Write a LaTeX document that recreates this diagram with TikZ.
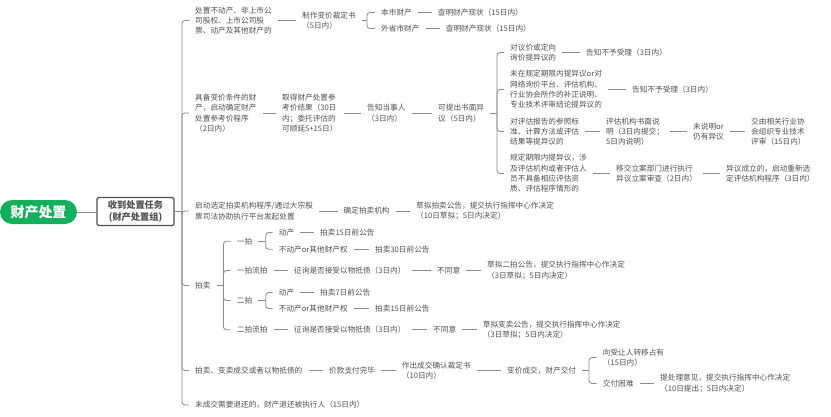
\documentclass[tikz,border=0pt]{standalone}
\usepackage{fontspec}
\setmainfont{Noto Sans CJK SC}
\definecolor{txt}{HTML}{505050}
\definecolor{lin}{HTML}{8C8C8C}
\definecolor{grn}{HTML}{12B05C}
\newcommand{\lk}[2]{\draw[conn] (#1.east) -- (#1.east -| #2.west);}
\newcommand{\fk}[3]{\draw[conn] (#2.east) -- (#2.east -| #1); \draw[conn,rounded corners=3pt] (#2.east -| #1) |- (#3.west);}
\tikzset{
  n/.style={anchor=west,xshift=-6pt,yshift=-0.5pt,inner xsep=6pt,inner ysep=1pt,align=left,text=txt,font=\fontsize{7.65}{10.35}\selectfont},
  conn/.style={draw=lin,line width=0.85pt},
  rootbox/.style={fill=grn,rounded corners=12pt,text=white,font=\fontsize{14}{16}\selectfont\bfseries,minimum width=77pt,minimum height=24pt,inner sep=0pt},
  taskbox/.style={draw=txt,line width=1.1pt,rounded corners=1.5pt,fill=white,align=center,text=txt,font=\fontsize{9.2}{11.5}\selectfont\bfseries,minimum width=77pt,minimum height=28pt,inner sep=0pt}
}
\begin{document}
\begin{tikzpicture}[x=1pt,y=-1pt]
\useasboundingbox (0,0) rectangle (831,416);
\coordinate (f0) at (182,0); \coordinate (fa) at (367,0); \coordinate (fb) at (497,0);
\coordinate (fd) at (223.5,0); \coordinate (fd1) at (265.7,0); \coordinate (fe) at (589,0);
\node[rootbox] (root) at (38.5,212) {财产处置};
\node[taskbox] (task) at (135.5,211.5) {收到处置任务\\(财产处置组)};
\lk{root}{task}
% level 1
\node[n] (A) at (195,20) {处置不动产、非上市公\\司股权、上市公司股\\票、动产及其他财产的};
\node[n] (B) at (195,112.5) {具备变价条件的财\\产，启动确定财产\\处置参考价程序\\（2日内）};
\node[n] (C) at (195,210.5) {启动选定拍卖机构程序/通过大宗股\\票司法协助执行平台发起处置};
\node[n] (D) at (195,285) {拍卖};
\node[n] (E) at (195,370) {拍卖、变卖成交或者以物抵债的};
\node[n] (F) at (195,404.5) {未成交需要退还的，财产退还被执行人（15日内）};
\foreach \c in {A,B,C,D,E,F}{\fk{f0}{task}{\c}}
% A
\node[n] (A1) at (302,20) {制作变价裁定书\\（5日内）};
\node[n] (A2) at (381,12) {本市财产};
\node[n] (A3) at (381,28) {外省市财产};
\node[n] (A4) at (437.7,12) {查明财产现状（15日内）};
\node[n] (A5) at (445.7,28) {查明财产现状（15日内）};
\lk{A}{A1} \fk{fa}{A1}{A2} \fk{fa}{A1}{A3} \lk{A2}{A4} \lk{A3}{A5}
% B
\node[n] (B1) at (282,112.5) {取得财产处置参\\考价结果（30日\\内；委托评估的\\可顺延5+15日）};
\node[n] (B2) at (367,112.5) {告知当事人\\（3日内）};
\node[n] (B3) at (438,112.5) {可提出书面异\\议（5日内）};
\lk{B}{B1} \lk{B1}{B2} \lk{B2}{B3}
\node[n] (P1) at (510,52) {对议价或定向\\询价提异议的};
\node[n] (P1a) at (586,52) {告知不予受理（3日内）};
\node[n] (P2) at (510,89) {未在规定期限内提异议or对\\网络询价平台、评估机构、\\行业协会所作的补正说明、\\专业技术评审结论提异议的};
\node[n] (P2a) at (632,89) {告知不予受理（3日内）};
\node[n] (P3) at (510,131) {对评估报告的参照标\\准、计算方法或评估\\结果等提异议的};
\node[n] (P3a) at (606,131) {评估机构书面说\\明（3日内提交；\\5日内说明）};
\node[n] (P3b) at (693,131) {未说明or\\仍有异议};
\node[n] (P3c) at (751,131) {交由相关行业协\\会组织专业技术\\评审（15日内）};
\node[n] (P4) at (510,173) {规定期限内提异议，涉\\及评估机构或者评估人\\员不具备相应评估资\\质、评估程序情形的};
\node[n] (P4a) at (616,173) {移交立案部门进行执行\\异议立案审查（2日内）};
\node[n] (P4b) at (726,173) {异议成立的，启动重新选\\定评估机构程序（3日内）};
\foreach \c in {P1,P2,P3,P4}{\fk{fb}{B3}{\c}}
\lk{P1}{P1a} \lk{P2}{P2a} \lk{P3}{P3a} \lk{P3a}{P3b} \lk{P3b}{P3c} \lk{P4}{P4a} \lk{P4a}{P4b}
% C
\node[n] (C1) at (343.5,210.5) {确定拍卖机构};
\node[n] (C2) at (416,210.5) {草拟拍卖公告，提交执行指挥中心作决定\\（10日草拟；5日内决定）};
\lk{C}{C1} \lk{C1}{C2}
% D
\node[n] (D1) at (236.7,240.7) {一拍};
\node[n] (D2) at (236.7,270) {一拍流拍};
\node[n] (D3) at (236.7,300) {二拍};
\node[n] (D4) at (236.7,329.3) {二拍流拍};
\foreach \c in {D1,D2,D3,D4}{\fk{fd}{D}{\c}}
\node[n] (D1a) at (278.7,232) {动产};
\node[n] (D1b) at (320,232) {拍卖15日前公告};
\node[n] (D1c) at (278.7,248.7) {不动产or其他财产权};
\node[n] (D1d) at (375,248.7) {拍卖30日前公告};
\fk{fd1}{D1}{D1a} \fk{fd1}{D1}{D1c} \lk{D1a}{D1b} \lk{D1c}{D1d}
\node[n] (D2a) at (294,270) {征询是否接受以物抵债（3日内）};
\node[n] (D2b) at (437,270) {不同意};
\node[n] (D2c) at (487,270) {草拟二拍公告，提交执行指挥中心作决定\\（3日草拟；5日内决定）};
\lk{D2}{D2a} \lk{D2a}{D2b} \lk{D2b}{D2c}
\node[n] (D3a) at (278.7,292) {动产};
\node[n] (D3b) at (320,292) {拍卖7日前公告};
\node[n] (D3c) at (278.7,308) {不动产or其他财产权};
\node[n] (D3d) at (375,308) {拍卖15日前公告};
\fk{fd1}{D3}{D3a} \fk{fd1}{D3}{D3c} \lk{D3a}{D3b} \lk{D3c}{D3d}
\node[n] (D4a) at (294,329.3) {征询是否接受以物抵债（3日内）};
\node[n] (D4b) at (433,329.3) {不同意};
\node[n] (D4c) at (482.7,329.3) {草拟变卖公告，提交执行指挥中心作决定\\（3日草拟；5日内决定）};
\lk{D4}{D4a} \lk{D4a}{D4b} \lk{D4b}{D4c}
% E
\node[n] (E1) at (329,370) {价款支付完毕};
\node[n] (E2) at (401.7,370) {作出成交确认裁定书\\（10日内）};
\node[n] (E3) at (507,370) {变价成交，财产交付};
\node[n] (E4) at (602.7,357) {向受让人转移占有\\（15日内）};
\node[n] (E5) at (602.7,383) {交付困难};
\node[n] (E6) at (660,383) {提处理意见，提交执行指挥中心作决定\\（10日提出；5日内决定）};
\lk{E}{E1} \lk{E1}{E2} \lk{E2}{E3} \fk{fe}{E3}{E4} \fk{fe}{E3}{E5} \lk{E5}{E6}
\end{tikzpicture}
\end{document}
